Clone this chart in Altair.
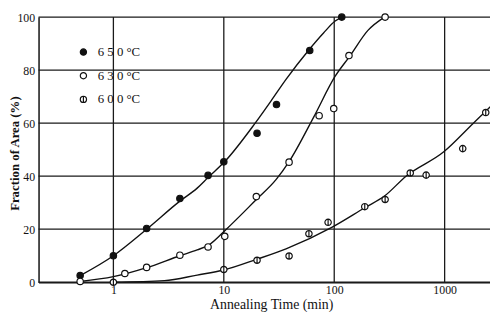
import altair as alt
import pandas as pd

series = ["650", "630", "600"]

pt650_x = [0.5, 1, 2, 4, 7.2, 10, 20, 30, 60, 117]
pt650_y = [2.5, 10, 20.3, 31.6, 40.3, 45.4, 56.2, 67, 87.4, 100]

pt630_x = [0.5, 1.27, 2, 4, 7.2, 10.2, 19.7, 39, 73, 99, 136, 289]
pt630_y = [0.3, 3.3, 5.6, 10.2, 13.3, 17.3, 32.3, 45.3, 62.8, 65.5, 85.5, 100]

pt600_x = [1, 10, 20, 39, 59, 88, 189, 289, 488, 680, 1458, 2356]
pt600_y = [0, 4.8, 8.3, 9.9, 18.3, 22.6, 28.5, 31.2, 41.2, 40.4, 50.4, 64]

# fitted curves as drawn in the figure
c650_x = [0.5, 1, 2, 4, 5.74, 7.2, 10.2, 19, 26.8, 36.6, 58.9, 80, 102, 117]
c650_y = [2.5, 10, 20, 30.6, 35.5, 39.5, 45.5, 59.7, 68.4, 76.5, 87.6, 94, 98.5, 100]

c630_x = [0.5, 1, 2, 4, 5.74, 7.3, 10.6, 19.7, 29.7, 39, 65, 102, 139, 202, 285]
c630_y = [0.3, 2.1, 5.5, 10, 12.2, 14, 20.1, 31.2, 38.7, 45.5, 62.2, 77.7, 85.4, 95, 100]

c600_x = [1, 2.9, 5.74, 10, 19.7, 36.6, 95, 189, 285, 447, 982, 1820, 2380, 2600]
c600_y = [0, 0.6, 2.7, 4.6, 8.6, 12.6, 20.7, 28.1, 32.5, 40, 49.2, 60, 64.7, 66.2]

x_ticks = [1, 10, 100, 1000]
y_ticks = [0, 20, 40, 60, 80, 100]
x_domain = [0.21, 2575]
y_domain = [0, 100]

points = pd.concat([
    pd.DataFrame({"t": pt650_x, "f": pt650_y, "s": "650"}),
    pd.DataFrame({"t": pt630_x, "f": pt630_y, "s": "630"}),
    pd.DataFrame({"t": pt600_x, "f": pt600_y, "s": "600"}),
])
curves = pd.concat([
    pd.DataFrame({"t": c650_x, "f": c650_y, "s": "650"}),
    pd.DataFrame({"t": c630_x, "f": c630_y, "s": "630"}),
    pd.DataFrame({"t": c600_x, "f": c600_y, "s": "600"}),
])

# grid lines built from the tick lists and the axis domains (two ends each)
grid_rows = []
for v in x_ticks:
    for yv in y_domain:
        grid_rows.append({"t": v, "f": yv, "g": f"x{v}"})
for v in y_ticks:
    for xv in x_domain:
        grid_rows.append({"t": xv, "f": v, "g": f"y{v}"})
grid_df = pd.DataFrame(grid_rows)

FONT = "Liberation Serif"
half_circle = "M0,-1A1,1,0,1,1,0,1A1,1,0,1,1,0,-1Z M0,-1L0,1"
LEG_EXPR = "join(split(datum.label, ''), ' ') + ' °C'"

x_scale = alt.Scale(type="log", domain=x_domain, nice=False)
y_scale = alt.Scale(domain=y_domain, nice=False)

x_axis = alt.Axis(
    values=x_ticks, format="d", title="Annealing Time  (min)",
    grid=False, ticks=False, labelPadding=2,
    titleX=236, titleY=23, titleAlign="center", titleBaseline="middle",
    titleFont=FONT, titleFontSize=14, titleFontWeight="normal",
    labelFont=FONT, labelFontSize=12,
)
y_axis = alt.Axis(
    values=y_ticks, title="Fraction  of  Area  (%)",
    grid=False, ticks=False, labelPadding=4,
    titleX=-24, titleY=138, titleAngle=270, titleAlign="center",
    titleBaseline="middle",
    titleFont=FONT, titleFontSize=13, titleFontWeight="bold",
    labelFont=FONT, labelFontSize=12,
)

grid = alt.Chart(grid_df).mark_line(color="#1a1a1a", strokeWidth=1.3, opacity=1).encode(
    x=alt.X("t:Q", scale=x_scale, axis=x_axis),
    y=alt.Y("f:Q", scale=y_scale, axis=y_axis),
    detail="g:N",
)

lines = alt.Chart(curves).mark_line(
    interpolate="monotone", color="#111", strokeWidth=1.4, clip=True
).encode(
    x=alt.X("t:Q", scale=x_scale, axis=x_axis),
    y=alt.Y("f:Q", scale=y_scale, axis=y_axis),
    detail="s:N", order=alt.Order("t:Q"),
)

leg = alt.Legend(title=None, labelExpr=LEG_EXPR)
pts = alt.Chart(points).mark_point(
    size=42, strokeWidth=1.2, opacity=1, filled=False
).encode(
    x=alt.X("t:Q", scale=x_scale, axis=x_axis),
    y=alt.Y("f:Q", scale=y_scale, axis=y_axis),
    shape=alt.Shape("s:N", scale=alt.Scale(domain=series, range=["circle", "circle", half_circle]),
                    legend=leg),
    fill=alt.Fill("s:N", scale=alt.Scale(domain=series, range=["#111", "white", "white"]),
                  legend=leg),
    stroke=alt.Stroke("s:N", scale=alt.Scale(domain=series, range=["#111", "#111", "#111"]),
                      legend=leg),
)

chart = alt.layer(grid, lines, pts).properties(
    width=458, height=269,
    autosize=alt.AutoSizeParams(type="none"),
    padding={"left": 31, "top": 7, "right": 0, "bottom": 30},
    background="white",
).configure_view(stroke=None).configure_axis(
    domainColor="#111", domainWidth=1.5,
    labelColor="#111", titleColor="#111",
).configure_legend(
    orient="none", legendX=39, legendY=29, padding=0,
    labelFont=FONT, labelFontSize=13, labelColor="#111",
    symbolSize=40, symbolStrokeWidth=1.2,
    rowPadding=10, labelOffset=8,
)

chart.save("out.html", embed_options={"renderer": "svg", "actions": False})
